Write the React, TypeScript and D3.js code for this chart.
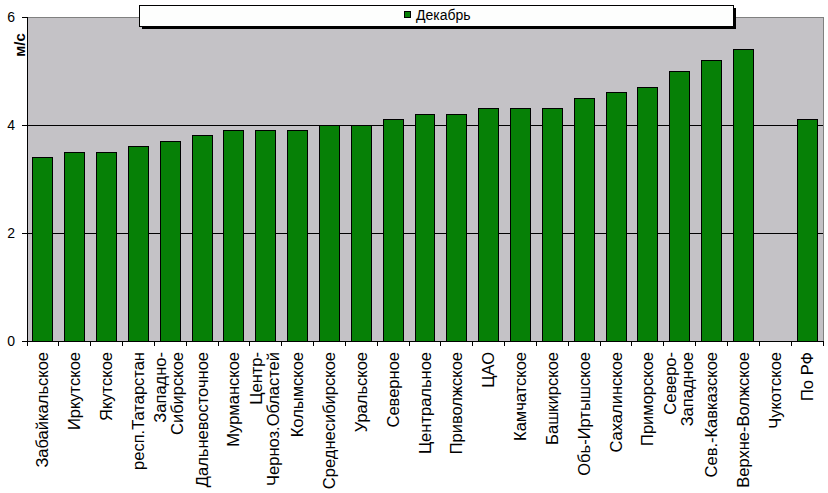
import React from "react";
import * as d3 from "d3";

const categories: string[][] = [
  ["Забайкальское"],
  ["Иркутское"],
  ["Якутское"],
  ["респ.Татарстан"],
  ["Западно-", "Сибирское"],
  ["Дальневосточное"],
  ["Мурманское"],
  ["Центр-", "Черноз.Областей"],
  ["Колымское"],
  ["Среднесибирское"],
  ["Уральское"],
  ["Северное"],
  ["Центральное"],
  ["Приволжское"],
  ["ЦАО"],
  ["Камчатское"],
  ["Башкирское"],
  ["Обь-Иртышское"],
  ["Сахалинское"],
  ["Приморское"],
  ["Северо-", "Западное"],
  ["Сев.-Кавказское"],
  ["Верхне-Волжское"],
  ["Чукотское"],
  ["По РФ"],
];

const decemberValues: (number | null)[] = [
  3.4, 3.5, 3.5, 3.6, 3.7, 3.8, 3.9, 3.9, 3.9, 4.0, 4.0, 4.1, 4.2, 4.2, 4.3,
  4.3, 4.3, 4.5, 4.6, 4.7, 5.0, 5.2, 5.4, null, 4.1,
];

const yTicks = [0, 2, 4, 6];
const seriesName = "Декабрь";
const yLabel = "м/с";

const W = 828;
const H = 493;
const left = 27;
const right = 823;
const top = 17;
const bottom = 341;
const font = "'Liberation Sans', Arial, sans-serif";

export default function App() {
  const keys = categories.map((_, i) => String(i));
  const x = d3
    .scaleBand<string>()
    .domain(keys)
    .range([left, right])
    .paddingInner(0.372)
    .paddingOuter(0.186);
  const y = d3.scaleLinear().domain([0, 6]).range([bottom, top]);
  const step = x.step();
  const boundaries = d3.range(categories.length + 1).map((i) => left + i * step);

  return (
    <svg
      width={W}
      height={H}
      style={{ position: "absolute", left: 0, top: 0, background: "#fff" }}
      fontFamily={font}
    >
      <rect x={0} y={0} width={W} height={H} fill="#fff" />
      <rect x={left} y={top} width={right - left} height={bottom - top} fill="#c4c2c6" />
      {/* gridlines */}
      {yTicks
        .filter((t) => t > 0 && t < 6)
        .map((t) => (
          <line key={t} x1={left} x2={right} y1={y(t)} y2={y(t)} stroke="#000" strokeWidth={1} shapeRendering="crispEdges" />
        ))}
      {/* top & right border */}
      <line x1={left} x2={right} y1={y(6)} y2={y(6)} stroke="#808080" shapeRendering="crispEdges" />
      <line x1={right} x2={right} y1={top} y2={bottom} stroke="#808080" shapeRendering="crispEdges" />
      {/* bars */}
      {decemberValues.map((v, i) =>
        v == null ? null : (
          <rect
            key={i}
            x={x(String(i))!}
            y={y(v)}
            width={x.bandwidth()}
            height={y(0) - y(v)}
            fill="#068006"
            stroke="#000"
            strokeWidth={1}
            shapeRendering="crispEdges"
          />
        )
      )}
      {/* axes */}
      <line x1={left} x2={left} y1={top} y2={bottom} stroke="#000" shapeRendering="crispEdges" />
      <line x1={left} x2={right} y1={bottom} y2={bottom} stroke="#000" shapeRendering="crispEdges" />
      {yTicks.map((t) => (
        <g key={t}>
          <line x1={left - 5} x2={left} y1={y(t)} y2={y(t)} stroke="#000" shapeRendering="crispEdges" />
          <text x={15} y={y(t)} dy="0.36em" textAnchor="end" fontSize={14} fill="#000">
            {t}
          </text>
        </g>
      ))}
      {boundaries.map((bx, i) => (
        <line key={i} x1={bx} x2={bx} y1={bottom} y2={bottom + 5} stroke="#000" shapeRendering="crispEdges" />
      ))}
      {/* y label */}
      <text
        transform={`translate(20,45) rotate(-90)`}
        textAnchor="middle"
        dy="0.36em"
        fontSize={15}
        fontWeight="bold"
        fill="#000"
      >
        {yLabel}
      </text>
      {/* x labels */}
      {categories.map((lines, i) => {
        const cx = x(String(i))! + x.bandwidth() / 2;
        const offsets = lines.length === 1 ? [5.5] : [-4, 13];
        return (
          <g key={i} transform={`translate(${cx},352) rotate(-90)`}>
            {lines.map((ln, j) => (
              <text key={j} x={0} y={offsets[j]} textAnchor="end" fontSize={16.5} fill="#000">
                {ln}
              </text>
            ))}
          </g>
        );
      })}
      {/* legend */}
      <rect x={142} y={8} width={594} height={21} fill="#000" />
      <rect x={139.5} y={5.5} width={594} height={21} fill="#fdfefd" stroke="#000" strokeWidth={1} />
      <rect x={404.5} y={11.5} width={6} height={6} fill="#068006" stroke="#000" strokeWidth={1} />
      <text x={416} y={20} fontSize={14} fill="#000">
        {seriesName}
      </text>
    </svg>
  );
}
